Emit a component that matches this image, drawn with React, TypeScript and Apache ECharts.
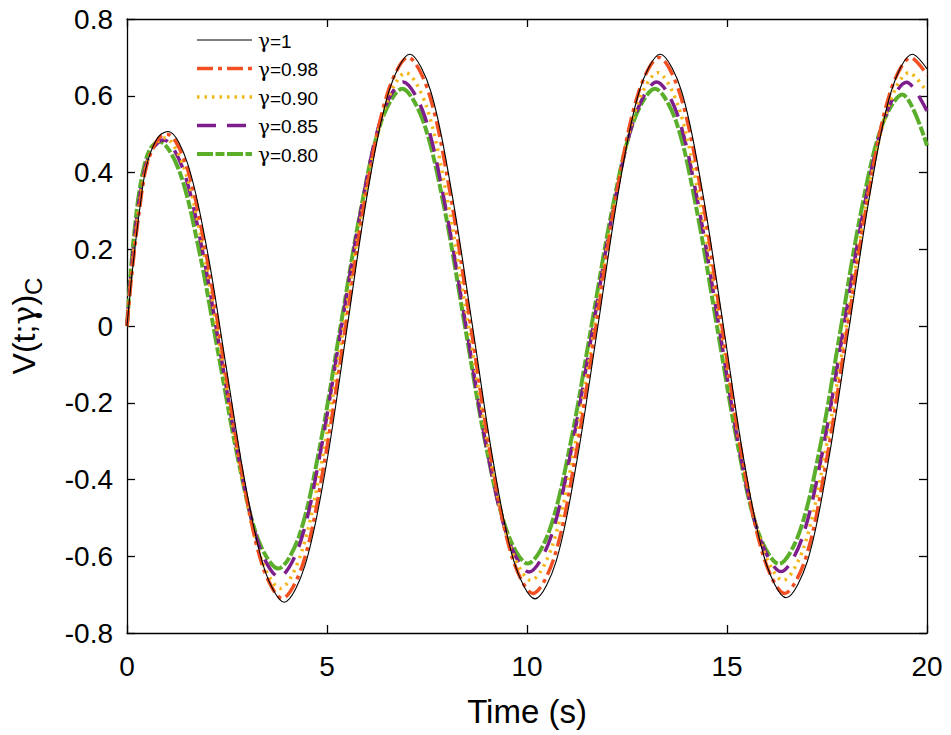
import React, { useEffect, useRef } from "react";
import * as echarts from "echarts";

// [time (s), V] points, one array per γ
const gamma100: number[][] = [
  [0, 0], [0.1, 0.11], [0.2, 0.205], [0.3, 0.29], [0.45, 0.4], [0.6, 0.455], [0.8, 0.495], [1.03, 0.507],
  [1.51, 0.425], [2.0, 0.2], [2.48, -0.107], [2.96, -0.413], [3.45, -0.638], [3.93, -0.72],
  [4.45, -0.624], [4.98, -0.363], [5.5, -0.006], [6.02, 0.351], [6.55, 0.612], [7.07, 0.708],
  [7.59, 0.613], [8.11, 0.353], [8.64, -0.002], [9.16, -0.356], [9.68, -0.616], [10.2, -0.711],
  [10.72, -0.616], [11.24, -0.356], [11.77, -0.002], [12.29, 0.353], [12.81, 0.613], [13.33, 0.708],
  [13.86, 0.613], [14.38, 0.354], [14.91, 0], [15.43, -0.354], [15.96, -0.613], [16.48, -0.708],
  [17.01, -0.613], [17.53, -0.354], [18.06, 0], [18.59, 0.354], [19.11, 0.613], [19.64, 0.708],
  [20, 0.67],
];
const gamma098: number[][] = [
  [0, 0], [0.1, 0.115], [0.2, 0.21], [0.3, 0.295], [0.45, 0.4], [0.6, 0.452], [0.8, 0.49], [1.0, 0.5],
  [1.48, 0.419], [1.96, 0.198], [2.44, -0.105], [2.92, -0.408], [3.4, -0.629], [3.88, -0.71],
  [4.41, -0.616], [4.93, -0.358], [5.46, -0.005], [5.98, 0.348], [6.51, 0.606], [7.03, 0.7],
  [7.55, 0.606], [8.07, 0.351], [8.59, 0.002], [9.11, -0.348], [9.63, -0.603], [10.15, -0.697],
  [10.68, -0.603], [11.2, -0.348], [11.73, 0.002], [12.25, 0.351], [12.78, 0.606], [13.3, 0.7],
  [13.82, 0.606], [14.35, 0.351], [14.87, 0.002], [15.39, -0.348], [15.92, -0.603], [16.44, -0.697],
  [16.97, -0.604], [17.49, -0.348], [18.02, 0.001], [18.55, 0.35], [19.07, 0.606], [19.6, 0.699],
  [20, 0.655],
];
const gamma090: number[][] = [
  [0, 0], [0.1, 0.125], [0.2, 0.225], [0.3, 0.31], [0.45, 0.405], [0.6, 0.452], [0.8, 0.484], [0.95, 0.49],
  [1.43, 0.411], [1.91, 0.197], [2.39, -0.097], [2.87, -0.391], [3.35, -0.605], [3.83, -0.684],
  [4.35, -0.594], [4.88, -0.348], [5.4, -0.012], [5.92, 0.324], [6.45, 0.57], [6.97, 0.66],
  [7.49, 0.571], [8.01, 0.329], [8.54, -0.002], [9.06, -0.332], [9.58, -0.574], [10.1, -0.663],
  [10.63, -0.574], [11.16, -0.332], [11.69, -0.002], [12.21, 0.329], [12.74, 0.571], [13.27, 0.66],
  [13.79, 0.571], [14.31, 0.329], [14.84, -0.002], [15.36, -0.332], [15.88, -0.574], [16.4, -0.663],
  [16.93, -0.574], [17.45, -0.332], [17.98, -0.002], [18.5, 0.329], [19.03, 0.571], [19.55, 0.66],
  [20, 0.61],
];
const gamma085: number[][] = [
  [0, 0], [0.1, 0.135], [0.2, 0.24], [0.3, 0.325], [0.45, 0.41], [0.6, 0.455], [0.8, 0.48], [0.92, 0.485],
  [1.4, 0.409], [1.88, 0.2], [2.36, -0.085], [2.84, -0.369], [3.32, -0.578], [3.8, -0.654],
  [4.32, -0.568], [4.83, -0.332], [5.35, -0.009], [5.87, 0.314], [6.38, 0.55], [6.9, 0.636],
  [7.43, 0.55], [7.95, 0.317], [8.48, -0.003], [9.0, -0.322], [9.53, -0.555], [10.05, -0.641],
  [10.58, -0.555], [11.11, -0.322], [11.65, -0.003], [12.18, 0.317], [12.71, 0.55], [13.24, 0.636],
  [13.76, 0.551], [14.28, 0.317], [14.8, -0.002], [15.31, -0.321], [15.83, -0.555], [16.35, -0.64],
  [16.87, -0.555], [17.4, -0.321], [17.92, -0.003], [18.44, 0.316], [18.97, 0.55], [19.49, 0.635],
  [20, 0.56],
];
const gamma080: number[][] = [
  [0, 0], [0.1, 0.15], [0.2, 0.26], [0.3, 0.345], [0.45, 0.425], [0.6, 0.465], [0.8, 0.481],
  [1.3, 0.406], [1.79, 0.203], [2.29, -0.076], [2.79, -0.354], [3.28, -0.557], [3.78, -0.632],
  [4.3, -0.548], [4.81, -0.32], [5.33, -0.007], [5.85, 0.306], [6.36, 0.534], [6.88, 0.618],
  [7.4, 0.535], [7.93, 0.309], [8.45, -0.001], [8.97, -0.31], [9.5, -0.536], [10.02, -0.619],
  [10.55, -0.536], [11.08, -0.31], [11.61, -0.001], [12.14, 0.309], [12.67, 0.535], [13.2, 0.618],
  [13.72, 0.535], [14.23, 0.309], [14.75, -0.001], [15.27, -0.311], [15.78, -0.537], [16.3, -0.62],
  [16.81, -0.538], [17.33, -0.314], [17.84, -0.009], [18.35, 0.297], [18.87, 0.521], [19.38, 0.603],
  [20, 0.47],
];

const gammaLabels = ["1", "0.98", "0.90", "0.85", "0.80"];
const seriesValues = [gamma100, gamma098, gamma090, gamma085, gamma080];

const xTicks = { min: 0, max: 20, interval: 5 };
const yTicks = { min: -0.8, max: 0.8, interval: 0.2 };

const FONT = "Arial, 'Liberation Sans', sans-serif";
const GREEK = "'DejaVu Serif', serif";

const styles = [
  { color: "#000000", width: 1.1, dash: "solid" as any },
  { color: "#F25022", width: 3.5, dash: [16, 5, 4, 5] },
  { color: "#F5B619", width: 3.5, dash: [2.5, 5] },
  { color: "#7D1E8C", width: 3.5, dash: [19, 11] },
  { color: "#5AAE2A", width: 4, dash: [16, 2.5, 9, 2.5] },
];

export default function App() {
  const ref = useRef<HTMLDivElement>(null);
  useEffect(() => {
    document.body.style.margin = "0";
    if (!ref.current) return;
    const chart = echarts.init(ref.current, null, { renderer: "svg" });
    const axisCommon = {
      axisLine: { show: true, onZero: false, lineStyle: { color: "#000", width: 1.3 } },
      axisTick: { show: true, inside: true, length: 8, lineStyle: { color: "#000", width: 1.3 } },
      splitLine: { show: false },
    };
    const series = gammaLabels.map((g, i) => ({
      name: "γ=" + g,
      type: "line",
      data: seriesValues[i],
      smooth: 0.33,
      symbol: "none",
      showSymbol: false,
      z: 10 - i,
      lineStyle: { color: styles[i].color, width: styles[i].width, type: styles[i].dash },
      itemStyle: { color: styles[i].color },
    }));

    // Legend (MATLAB-style, no box) drawn as graphic elements
    const legendX0 = 197;
    const legendX1 = 252;
    const legendY0 = 40;
    const legendStep = 28.5;
    const legendEls: any[] = [];
    gammaLabels.forEach((g, i) => {
      const y = legendY0 + i * legendStep;
      legendEls.push({
        type: "line",
        shape: { x1: legendX0, y1: y, x2: legendX1, y2: y },
        style: {
          stroke: styles[i].color,
          lineWidth: styles[i].width,
          lineDash: styles[i].dash === "solid" ? null : styles[i].dash,
        },
        z: 100,
      });
      legendEls.push({
        type: "text",
        x: 258,
        y: y + 1,
        style: {
          text: "{g|γ}{t|=" + g + "}",
          verticalAlign: "middle",
          align: "left",
          fill: "#000",
          rich: {
            g: { fontFamily: GREEK, fontSize: 20, fill: "#000" },
            t: { fontFamily: FONT, fontSize: 19, fill: "#000" },
          },
        },
        z: 100,
      });
    });

    chart.setOption({
      animation: false,
      backgroundColor: "#fff",
      grid: { left: 127, right: 24, top: 19, bottom: 102, containLabel: false },
      graphic: legendEls,
      xAxis: [
        {
          type: "value",
          position: "bottom",
          ...xTicks,
          ...axisCommon,
          name: "Time (s)",
          nameLocation: "middle",
          nameGap: 62,
          nameTextStyle: { fontSize: 33, color: "#000", fontFamily: FONT },
          axisLabel: { fontSize: 28, color: "#000", fontFamily: FONT, margin: 19 },
        },
        {
          type: "value",
          position: "top",
          ...xTicks,
          ...axisCommon,
          axisLabel: { show: false },
        },
      ],
      yAxis: [
        {
          type: "value",
          position: "left",
          ...yTicks,
          ...axisCommon,
          name: "{n|V(t;}{g|γ}{n|)}{s|C}",
          nameLocation: "middle",
          nameGap: 82,
          nameTextStyle: {
            color: "#000",
            fontFamily: FONT,
            rich: {
              n: { fontSize: 32, color: "#000", fontFamily: FONT },
              g: { fontSize: 32, color: "#000", fontFamily: GREEK },
              s: { fontSize: 24, color: "#000", fontFamily: FONT, verticalAlign: "bottom", padding: [18, 0, 0, 0] },
            },
          },
          axisLabel: {
            fontSize: 28,
            color: "#000",
            fontFamily: FONT,
            margin: 14,
            formatter: (v: number) => (Math.abs(v) < 1e-9 ? "0" : v.toFixed(1)),
          },
        },
        {
          type: "value",
          position: "right",
          ...yTicks,
          ...axisCommon,
          axisLabel: { show: false },
        },
      ],
      series,
    });
    return () => chart.dispose();
  }, []);
  return <div ref={ref} style={{ width: "951px", height: "735px" }} />;
}
